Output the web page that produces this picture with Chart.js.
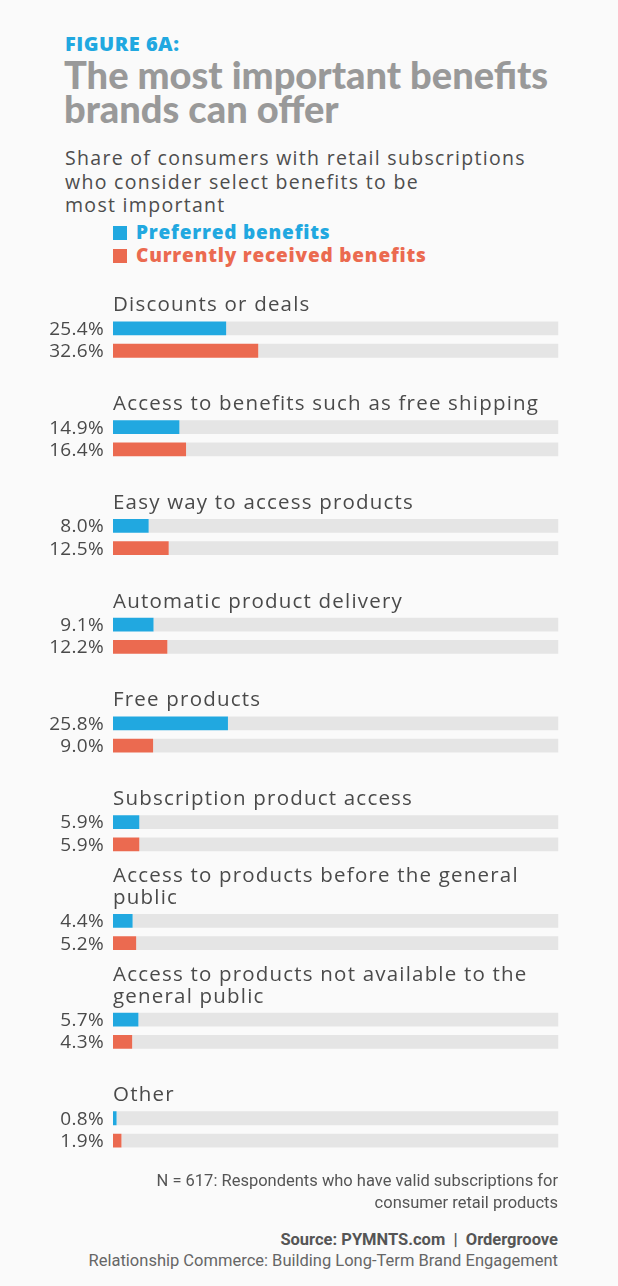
<!DOCTYPE html>
<html>
<head>
<meta charset="UTF-8">
<title>Figure 6A</title>
<script src="https://cdn.jsdelivr.net/npm/chart.js"></script>
<style>
  html, body { margin: 0; padding: 0; background: #fafafa; }
  body { width: 618px; height: 1286px; position: relative; overflow: hidden; font-family: "Open Sans", sans-serif; }
  .fig { position: absolute; left: 65px; top: 30px; font-size: 20px; font-weight: 800; color: #21a8e0; letter-spacing: 0.5px; }
  .title { position: absolute; left: 64px; top: 57px; font-family: Lato, sans-serif; font-size: 38px; line-height: 34px; font-weight: 900; color: #999; }
  .sub { position: absolute; left: 65px; top: 146px; font-size: 19.5px; line-height: 23.5px; color: #4d4d4d; letter-spacing: 1.3px; }
  .legend { position: absolute; left: 113px; top: 221px; font-size: 19px; line-height: 23px; font-weight: 800; letter-spacing: 0.8px; }
  .legend div span { display: inline-block; width: 14px; height: 14px; margin-right: 9px; vertical-align: -1px; }
  .chartbox { position: absolute; left: 0; top: 280px; width: 618px; height: 910px; }
  .note { position: absolute; right: 60px; top: 1170px; text-align: right; font-family: Roboto, sans-serif; font-size: 16.5px; line-height: 21.5px; color: #555; }
  .src { position: absolute; right: 60px; top: 1229px; text-align: right; font-family: Roboto, sans-serif; font-size: 16.5px; line-height: 21px; color: #666; }
  .src b { color: #555; }
</style>
</head>
<body>
<div class="fig">FIGURE 6A:</div>
<div class="title">The most important benefits<br>brands can offer</div>
<div class="sub">Share of consumers with retail subscriptions<br>who consider select benefits to be<br>most important</div>
<div class="legend">
  <div style="color:#21a8e0"><span style="background:#21a8e0"></span>Preferred benefits</div>
  <div style="color:#eb6a50"><span style="background:#eb6a50"></span>Currently received benefits</div>
</div>
<div class="chartbox"><canvas id="benefits"></canvas></div>
<div class="note">N = 617: Respondents who have valid subscriptions for<br>consumer retail products</div>
<div class="src"><b>Source: PYMNTS.com &nbsp;|&nbsp; Ordergroove</b><br>Relationship Commerce: Building Long-Term Brand Engagement</div>

<script>
const categories = [
  ["Discounts or deals"],
  ["Access to benefits such as free shipping"],
  ["Easy way to access products"],
  ["Automatic product delivery"],
  ["Free products"],
  ["Subscription product access"],
  ["Access to products before the general", "public"],
  ["Access to products not available to the", "general public"],
  ["Other"]
];
const preferred = [25.4, 14.9, 8.0, 9.1, 25.8, 5.9, 4.4, 5.7, 0.8];
const received = [32.6, 16.4, 12.5, 12.2, 9.0, 5.9, 5.2, 4.3, 1.9];

const BLUE = '#21a8e0';
const ORANGE = '#eb6a50';
const TRACK = '#e5e5e5';

// labels above each group and values left of each bar
const labelPlugin = {
  id: 'labels',
  afterDatasetsDraw(chart) {
    const ctx = chart.ctx;
    const blueMeta = chart.getDatasetMeta(0);
    const orangeMeta = chart.getDatasetMeta(2);
    ctx.save();
    ctx.fillStyle = '#4a4a4a';
    categories.forEach(function(lines, i) {
      const b = blueMeta.data[i];
      const o = orangeMeta.data[i];
      const top = b.y - b.height / 2;
      ctx.font = '20.5px "Open Sans"';
      ctx.letterSpacing = '1.2px';
      ctx.textAlign = 'left';
      ctx.textBaseline = 'alphabetic';
      for (let k = 0; k < lines.length; k++) {
        ctx.fillText(lines[lines.length - 1 - k], 113, top - 10 - k * 21.5);
      }
      ctx.font = '19px "Open Sans"';
      ctx.letterSpacing = '0.3px';
      ctx.textAlign = 'right';
      ctx.textBaseline = 'middle';
      ctx.fillText(preferred[i].toFixed(1) + '%', 104, b.y + 1);
      ctx.fillText(received[i].toFixed(1) + '%', 104, o.y + 1);
    });
    ctx.restore();
  }
};

new Chart(document.getElementById('benefits'), {
  type: 'bar',
  data: {
    labels: categories.map(function(c) { return c.join(' '); }),
    datasets: [
      { label: 'Preferred benefits', data: preferred, backgroundColor: BLUE, stack: 'p' },
      { label: 'track', data: preferred.map(function(v) { return 100 - v; }), backgroundColor: TRACK, stack: 'p' },
      { label: 'Currently received benefits', data: received, backgroundColor: ORANGE, stack: 'c' },
      { label: 'track', data: received.map(function(v) { return 100 - v; }), backgroundColor: TRACK, stack: 'c' }
    ]
  },
  options: {
    indexAxis: 'y',
    responsive: true,
    maintainAspectRatio: false,
    animation: false,
    categoryPercentage: 0.452,
    barPercentage: 0.62,
    layout: { padding: { left: 113, right: 59.5, top: 10.2, bottom: 11.2 } },
    scales: {
      x: { display: false, min: 0, max: 100 },
      y: { display: false }
    },
    plugins: {
      legend: { display: false },
      tooltip: { enabled: false }
    }
  },
  plugins: [labelPlugin]
});
</script>
</body>
</html>
